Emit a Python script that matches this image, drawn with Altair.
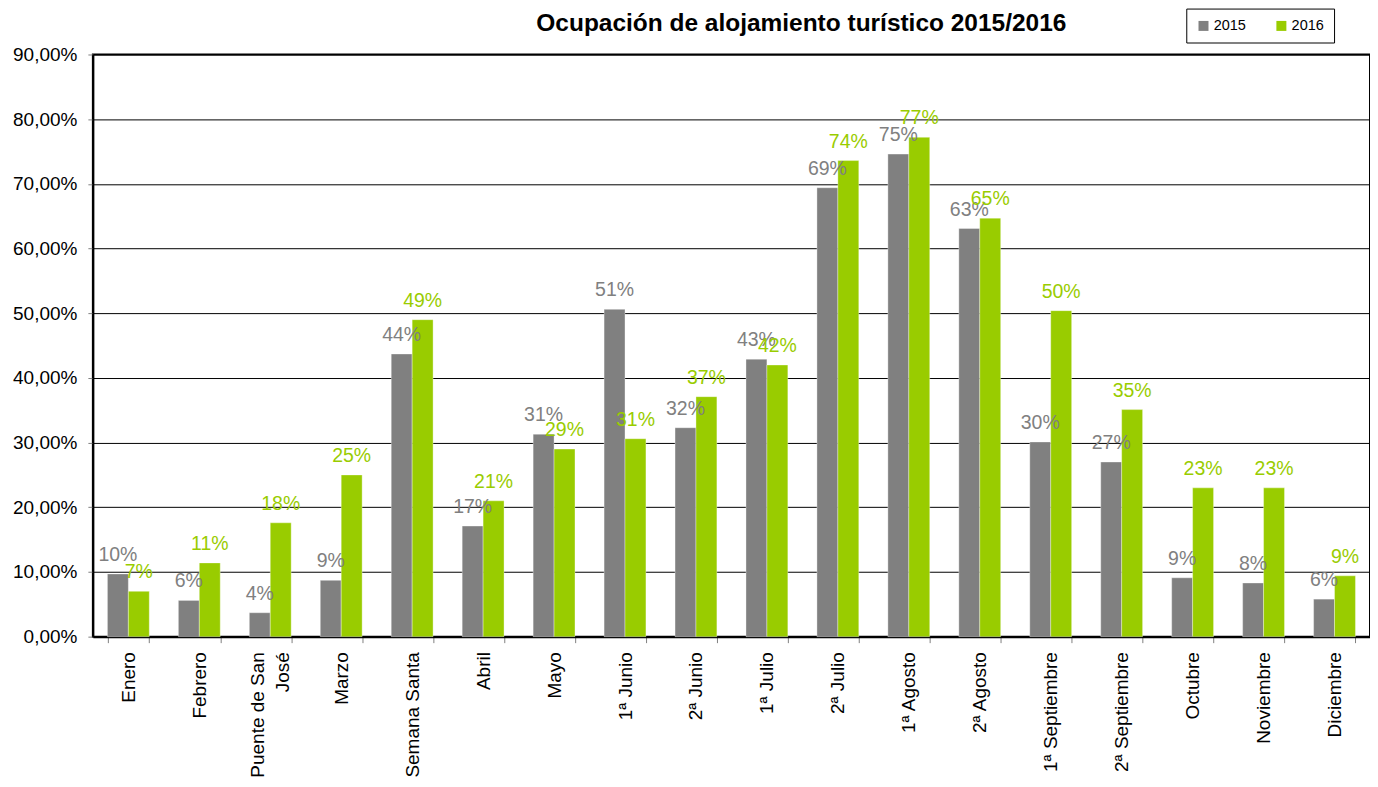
import altair as alt
import pandas as pd
import math

categories = ["Enero", "Febrero", "Puente de San|José", "Marzo", "Semana Santa", "Abril",
              "Mayo", "1ª Junio", "2ª Junio", "1ª Julio", "2ª Julio", "1ª Agosto",
              "2ª Agosto", "1ª Septiembre", "2ª Septiembre", "Octubre", "Noviembre", "Diciembre"]
values_2015 = [9.7, 5.6, 3.7, 8.7, 43.7, 17.1, 31.3, 50.6, 32.3, 42.9, 69.4, 74.6,
               63.1, 30.1, 27.0, 9.1, 8.3, 5.8]
values_2016 = [7.0, 11.4, 17.6, 25.0, 49.0, 21.0, 29.0, 30.6, 37.1, 42.0, 73.6, 77.2,
               64.7, 50.4, 35.1, 23.0, 23.0, 9.4]
years = ["2015", "2016"]
colors = ["#808080", "#99CC00"]
y_ticks = [0, 0.1, 0.2, 0.3, 0.4, 0.5, 0.6, 0.7, 0.8, 0.9]


def pct(v):
    return f"{int(math.floor(v + 0.5))}%"


rows = []
for c, a, b in zip(categories, values_2015, values_2016):
    rows.append({"cat": c, "year": "2015", "v": a / 100, "lab": pct(a)})
    rows.append({"cat": c, "year": "2016", "v": b / 100, "lab": pct(b)})
df = pd.DataFrame(rows)

FONT = "Arial, Liberation Sans, sans-serif"

x = alt.X("cat:N", sort=categories, title=None,
          scale=alt.Scale(paddingInner=0.41, paddingOuter=0.205),
          axis=alt.Axis(labelAngle=-90, labelAlign="right",
                        labelBaseline={"condition": {"test": "datum.value == 'Puente de San|José'",
                                                     "value": "line-bottom"},
                                       "value": "middle"},
                        labelExpr="split(datum.label, '|')", labelFontSize=19,
                        labelFont=FONT, labelColor="black", labelPadding=9,
                        labelLineHeight=25,
                        tickBand="extent", tickColor="#808080", tickSize=6,
                        domainColor="black", domainWidth=2, grid=False))
y = alt.Y("v:Q", title=None,
          scale=alt.Scale(domain=[0, 0.9], nice=False),
          axis=alt.Axis(values=y_ticks,
                        labelExpr="replace(format(datum.value*100, '.2f'), '.', ',') + '%'",
                        labelFontSize=19, labelFont=FONT, labelColor="black",
                        labelPadding=11, tickColor="#808080", tickSize=5,
                        domainColor="black", domainWidth=2,
                        grid=True, gridColor="black", gridWidth=1))
xo = alt.XOffset("year:N", sort=years, scale=alt.Scale(paddingInner=0, paddingOuter=0))
color_scale = alt.Scale(domain=years, range=colors)

bars = alt.Chart(df).mark_bar(strokeWidth=1, strokeOpacity=0.35, stroke="white").encode(
    x=x, y=y, xOffset=xo,
    color=alt.Color("year:N", scale=color_scale,
                    legend=alt.Legend(title=None, orient="none", direction="horizontal",
                                      legendX=1095, legendY=-46,
                                      strokeColor="black", fillColor="white",
                                      padding=10, symbolType="square", symbolSize=100,
                                      symbolStrokeWidth=0, labelFontSize=14.5,
                                      labelFont=FONT, labelColor="black",
                                      columnPadding=28, labelOffset=3))
)

labels = alt.Chart(df).mark_text(baseline="alphabetic", align="center", dy=-13,
                                 fontSize=19.5, font=FONT).encode(
    x=x, y=y, xOffset=xo, text="lab:N",
    color=alt.Color("year:N", scale=color_scale, legend=None)
)

chart = alt.layer(bars, labels).properties(
    width=1279, height=583,
    title=alt.TitleParams("Ocupación de alojamiento turístico 2015/2016",
                          fontSize=24.5, font=FONT, fontWeight="bold", color="black",
                          anchor="middle", dx=70, dy=48, offset=20),
    autosize=alt.AutoSizeParams(type="none"),
    padding={"left": 85, "top": 46, "right": 0, "bottom": 142},
).configure_view(stroke="black", strokeWidth=2)

chart.save("out.html", embed_options={"renderer": "svg", "actions": False})
